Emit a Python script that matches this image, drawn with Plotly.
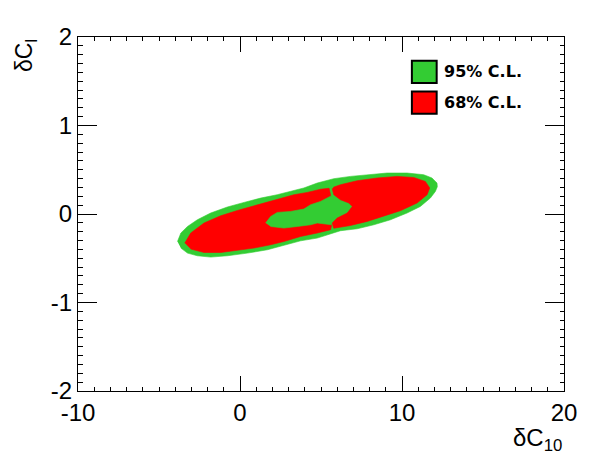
import plotly.graph_objects as go

# ---- data (δC10 on x, δCl on y) ----
# 95% C.L. outer contour
outer95_x = [-3.86, -3.65, -3.24, -2.63, -1.81, -0.78, 0.25, 1.28, 2.30, 3.12, 3.94, 4.77, 5.79, 6.82,
             7.85, 9.08, 10.31, 11.34, 11.85, 12.16, 12.18, 12.06, 11.75, 11.13, 10.31, 9.29, 8.26,
             7.23, 6.20, 5.39, 4.77, 3.74, 2.51, 1.69, 0.46, -0.78, -1.81, -2.63, -3.24, -3.65]
outer95_y = [-0.311, -0.215, -0.141, -0.065, 0.011, 0.079, 0.131, 0.180, 0.218, 0.255, 0.294, 0.350,
             0.399, 0.425, 0.444, 0.463, 0.463, 0.444, 0.407, 0.350, 0.308, 0.255, 0.180, 0.085,
             0.011, -0.065, -0.122, -0.167, -0.189, -0.235, -0.272, -0.303, -0.367, -0.404, -0.442,
             -0.472, -0.487, -0.472, -0.442, -0.385]

# 68% C.L. left lobe
left68_x = [-3.41, -3.04, -2.22, -1.19, -0.16, 0.86, 1.89, 2.51, 3.33, 4.15, 4.97, 5.50, 5.59, 5.65,
            5.59, 4.77, 3.74, 2.71, 1.89, 0.86, -0.16, -1.19, -2.22, -3.04]
left68_y = [-0.329, -0.215, -0.102, -0.020, 0.040, 0.093, 0.142, 0.180, 0.218, 0.244, 0.280, 0.291,
            0.218, -0.133, -0.178, -0.215, -0.254, -0.311, -0.348, -0.385, -0.412, -0.435, -0.435,
            -0.396]

# 95% C.L. island inside the 68% region
inner95_x = [1.58, 1.89, 2.30, 3.12, 3.94, 4.36, 4.97, 5.59, 5.90, 6.51, 7.01, 6.64, 5.96, 5.65,
             4.77, 4.36, 3.54, 2.71, 1.89]
inner95_y = [-0.102, -0.028, 0.018, 0.029, 0.056, 0.105, 0.142, 0.201, 0.184, 0.139, 0.082, 0.003,
             -0.088, -0.122, -0.102, -0.122, -0.141, -0.159, -0.141]

# 68% C.L. right lobe
right68_x = [5.69, 5.79, 6.20, 6.72, 6.93, 6.62, 6.00, 5.69, 5.79, 6.82, 7.85, 8.87, 9.90, 10.93,
             11.55, 11.71, 11.44, 10.72, 9.70, 8.47, 7.23, 6.20, 5.77]
right68_y = [0.286, 0.218, 0.161, 0.124, 0.085, 0.011, -0.046, -0.102, -0.161, -0.130, -0.084,
             -0.028, 0.037, 0.124, 0.218, 0.294, 0.368, 0.413, 0.425, 0.407, 0.376, 0.331, 0.303]

x_tickvals = [-10, 0, 10, 20]
x_ticktext = ["-10", "0", "10", "20"]
y_tickvals = [-2, -1, 0, 1, 2]
y_ticktext = ["-2", "-1", "0", "1", "2"]

legend_labels = ["95% C.L.", "68% C.L."]

GREEN = "rgb(51,204,51)"
RED = "rgb(255,0,0)"
FONT = "Liberation Sans, Arial, Helvetica, sans-serif"

fig = go.Figure()


def region(xs, ys, color):
    fig.add_trace(go.Scatter(x=xs, y=ys, mode="lines", fill="toself", fillcolor=color,
                             line=dict(width=0.6, color=color), hoverinfo="skip",
                             showlegend=False))


region(outer95_x, outer95_y, GREEN)
region(left68_x, left68_y, RED)
region(inner95_x, inner95_y, GREEN)
region(right68_x, right68_y, RED)

axis_common = dict(showgrid=False, zeroline=False, ticks="inside", tickcolor="black",
                   tickwidth=1)

fig.update_layout(
    width=596, height=472,
    margin=dict(l=78, r=32, t=37, b=81),
    paper_bgcolor="white", plot_bgcolor="white",
    font=dict(family=FONT, color="black"),
    xaxis=dict(range=[-10, 20], tickvals=x_tickvals, ticktext=x_ticktext, ticklen=15,
               showline=True, linecolor="black", linewidth=1, mirror="ticks",
               tickfont=dict(size=24, family=FONT),
               minor=dict(dtick=1, tick0=0, ticklen=4, ticks="inside", tickcolor="black",
                          showgrid=False),
               **axis_common),
    xaxis2=dict(range=[-10, 20], overlaying="x", anchor="y", side="bottom", dtick=2, tick0=0,
                ticklen=7.5, showticklabels=False, showline=False, mirror="ticks",
                **axis_common),
    yaxis=dict(range=[-2, 2], tickvals=y_tickvals, ticktext=y_ticktext, ticklen=19,
               showline=True, linecolor="black", linewidth=1, mirror="ticks",
               tickfont=dict(size=24, family=FONT),
               minor=dict(dtick=0.1, tick0=0, ticklen=4.5, ticks="inside", tickcolor="black",
                          showgrid=False),
               **axis_common),
    yaxis2=dict(range=[-2, 2], overlaying="y", anchor="x", side="left", dtick=0.5, tick0=0,
                ticklen=9, showticklabels=False, showline=False, mirror="ticks",
                **axis_common),
)

# legend (boxes + labels)
box_y = [(0.870, 0.933), (0.783, 0.846)]
colors = [GREEN, RED]
for (y0, y1), c, lab in zip(box_y, colors, legend_labels):
    fig.add_shape(type="rect", xref="paper", yref="paper", x0=0.687, x1=0.738, y0=y0, y1=y1,
                  fillcolor=c, line=dict(color="black", width=2))
    fig.add_annotation(xref="paper", yref="paper", x=0.749, y=(y0 + y1) / 2, xanchor="left",
                       yanchor="middle", showarrow=False, text="<b>%s</b>" % lab,
                       font=dict(family="DejaVu Sans, sans-serif", size=16, color="black"))

# axis titles
fig.add_annotation(xref="paper", yref="paper", x=1.0, y=-0.136, xanchor="right", yanchor="middle",
                   showarrow=False, text="δC<sub>10</sub>",
                   font=dict(family=FONT, size=24, color="black"))
fig.add_annotation(xref="paper", yref="paper", x=-0.108, y=1.0, xanchor="center",
                   yanchor="top", showarrow=False, textangle=-90, text="δC<sub>l</sub>",
                   font=dict(family=FONT, size=23, color="black"))

fig.write_html("out.html", config={"displayModeBar": False},
               post_script="document.body.style.margin='0px';")
